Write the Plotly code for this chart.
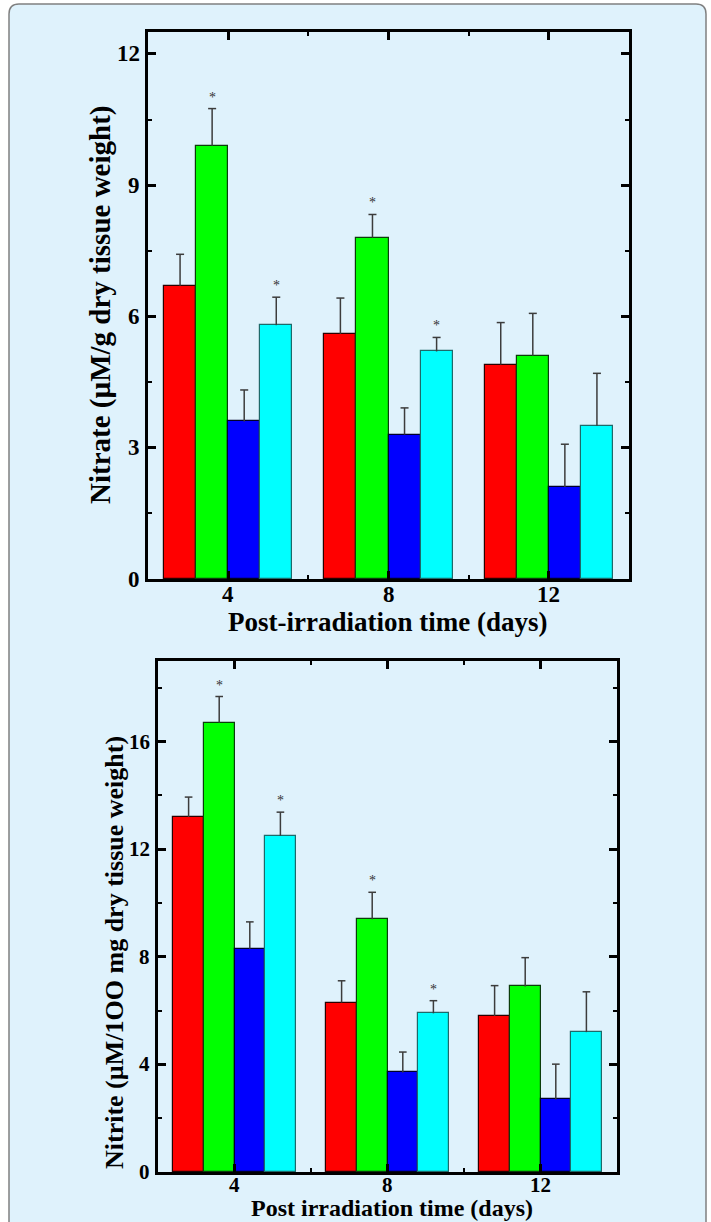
import plotly.graph_objects as go

W, H = 711, 1222

# ---- data ----
days = [4, 8, 12]
colors = ["#ff0000", "#00ff00", "#0000ff", "#00ffff"]
outlines = ["#2a0000", "#0b3d0b", "#00002a", "#1d6a6a"]

nitrate_mean = [
    [6.7, 5.6, 4.9],
    [9.9, 7.8, 5.1],
    [3.6, 3.3, 2.1],
    [5.8, 5.2, 3.5],
]
nitrate_err = [
    [0.72, 0.82, 0.96],
    [0.85, 0.53, 0.97],
    [0.72, 0.61, 0.98],
    [0.64, 0.32, 1.20],
]
nitrate_sig = [
    [False, False, False],
    [True, True, False],
    [False, False, False],
    [True, True, False],
]
nitrate_ticks = [0, 3, 6, 9, 12]

nitrite_mean = [
    [13.2, 6.3, 5.8],
    [16.7, 9.4, 6.9],
    [8.3, 3.7, 2.7],
    [12.5, 5.9, 5.2],
]
nitrite_err = [
    [0.74, 0.81, 1.13],
    [0.98, 1.00, 1.07],
    [1.00, 0.76, 1.31],
    [0.88, 0.47, 1.50],
]
nitrite_sig = nitrate_sig
nitrite_ticks = [0, 4, 8, 12, 16]

offsets = [-1.2, -0.4, 0.4, 1.2]
bar_w = 0.8
cap_half = 0.1  # half-width of the error-bar cap, in day units

FONT = "Liberation Serif, Times New Roman, serif"


def px_x(p):
    return p / W


def px_y(p):
    return 1 - p / H


fig = go.Figure()
annotations = []


def add_panel(means, errs, sig, xa, ya):
    for i in range(4):
        xs = [d + offsets[i] for d in days]
        fig.add_trace(go.Bar(
            x=xs, y=means[i], width=bar_w,
            marker=dict(color=colors[i], line=dict(color=outlines[i], width=1.2)),
            xaxis=xa, yaxis=ya, showlegend=False, hoverinfo="skip",
        ))
    # upper error whiskers with caps
    ex, ey = [], []
    for i in range(4):
        for j, d in enumerate(days):
            xc = d + offsets[i]
            top = means[i][j] + errs[i][j]
            ex += [xc, xc, None, xc - cap_half, xc + cap_half, None]
            ey += [means[i][j], top, None, top, top, None]
            if sig[i][j]:
                annotations.append(dict(
                    x=xc, y=top, xref=xa, yref=ya,
                    text="*", showarrow=False, yanchor="bottom", yshift=2,
                    font=dict(family=FONT, size=14, color="#333"),
                ))
    fig.add_trace(go.Scatter(
        x=ex, y=ey, mode="lines", line=dict(color="#3c3c3c", width=1.5),
        xaxis=xa, yaxis=ya, showlegend=False, hoverinfo="skip",
    ))


add_panel(nitrate_mean, nitrate_err, nitrate_sig, "x", "y")
add_panel(nitrite_mean, nitrite_err, nitrite_sig, "x2", "y2")

axis_common = dict(
    showline=True, linecolor="black", linewidth=3, mirror="allticks",
    ticks="inside", ticklen=8, tickwidth=3, tickcolor="black",
    showgrid=False, zeroline=False, tickmode="array", showticklabels=False,
)

# top panel: 148..629 px wide, 32..579 px tall; bottom: 158..617 x 661..1172
fig.update_layout(
    xaxis=dict(domain=[px_x(148), px_x(629)], range=[2, 14], anchor="y",
               tickvals=days,
               minor=dict(tickvals=[6, 10], ticks="inside", ticklen=4,
                          tickwidth=2, tickcolor="black"),
               **axis_common),
    yaxis=dict(domain=[px_y(579), px_y(32)], range=[0, 12.5], anchor="x",
               tickvals=nitrate_ticks,
               minor=dict(tick0=0, dtick=1.5, ticks="inside", ticklen=4,
                          tickwidth=2, tickcolor="black"),
               **axis_common),
    xaxis2=dict(domain=[px_x(158), px_x(617)], range=[2, 14], anchor="y2",
                tickvals=days,
                minor=dict(tickvals=[6, 10], ticks="inside", ticklen=4,
                           tickwidth=2, tickcolor="black"),
                **axis_common),
    yaxis2=dict(domain=[px_y(1172), px_y(661)], range=[0, 19], anchor="x2",
                tickvals=nitrite_ticks,
                minor=dict(tick0=0, dtick=2, ticks="inside", ticklen=4,
                           tickwidth=2, tickcolor="black"),
                **axis_common),
)


def bfont(size):
    return dict(family=FONT, size=size, color="black")


# tick labels, placed at the tick values
def tick_labels(xa, ya, yticks, x_label_px, y_label_px, size):
    for v in yticks:
        annotations.append(dict(
            text=f"<b>{v}</b>", x=px_x(x_label_px), y=v, xref="paper", yref=ya,
            showarrow=False, xanchor="right", yanchor="middle", font=bfont(size)))
    for d in days:
        annotations.append(dict(
            text=f"<b>{d}</b>", x=d, y=px_y(y_label_px), xref=xa, yref="paper",
            showarrow=False, xanchor="center", yanchor="middle", font=bfont(size)))


tick_labels("x", "y", nitrate_ticks, 142, 594, 23)
tick_labels("x2", "y2", nitrite_ticks, 152, 1185, 21)

annotations += [
    dict(text="<b>Nitrate (µM/g dry tissue weight)</b>", x=px_x(100), y=px_y(305),
         xref="paper", yref="paper", showarrow=False, textangle=-90,
         xanchor="center", yanchor="middle", font=bfont(29)),
    dict(text="<b>Post-irradiation time (days)</b>", x=px_x(388), y=px_y(622),
         xref="paper", yref="paper", showarrow=False,
         xanchor="center", yanchor="middle", font=bfont(27)),
    dict(text="<b>Nitrite (µM/1OO mg dry tissue weight)</b>", x=px_x(114), y=px_y(953),
         xref="paper", yref="paper", showarrow=False, textangle=-90,
         xanchor="center", yanchor="middle", font=bfont(26)),
    dict(text="<b>Post irradiation time (days)</b>", x=px_x(392), y=px_y(1208),
         xref="paper", yref="paper", showarrow=False,
         xanchor="center", yanchor="middle", font=bfont(24)),
]

# rounded panel behind both charts
x0, x1, y0, y1, r = 9, 706, 4, 1240, 10
path = (
    f"M {px_x(x0)},{px_y(y1)} "
    f"L {px_x(x0)},{px_y(y0 + r)} "
    f"Q {px_x(x0)},{px_y(y0)} {px_x(x0 + r)},{px_y(y0)} "
    f"L {px_x(x1 - r)},{px_y(y0)} "
    f"Q {px_x(x1)},{px_y(y0)} {px_x(x1)},{px_y(y0 + r)} "
    f"L {px_x(x1)},{px_y(y1)} Z"
)

fig.update_layout(
    width=W, height=H,
    margin=dict(l=0, r=0, t=0, b=0),
    font=dict(family=FONT, size=23, color="black"),
    paper_bgcolor="white",
    plot_bgcolor="rgba(0,0,0,0)",
    bargap=0, barmode="overlay",
    annotations=annotations,
    shapes=[dict(type="path", path=path, xref="paper", yref="paper",
                 fillcolor="#dff2fc", line=dict(color="#808080", width=1.5),
                 layer="below")],
)

fig.write_html("out.html")
